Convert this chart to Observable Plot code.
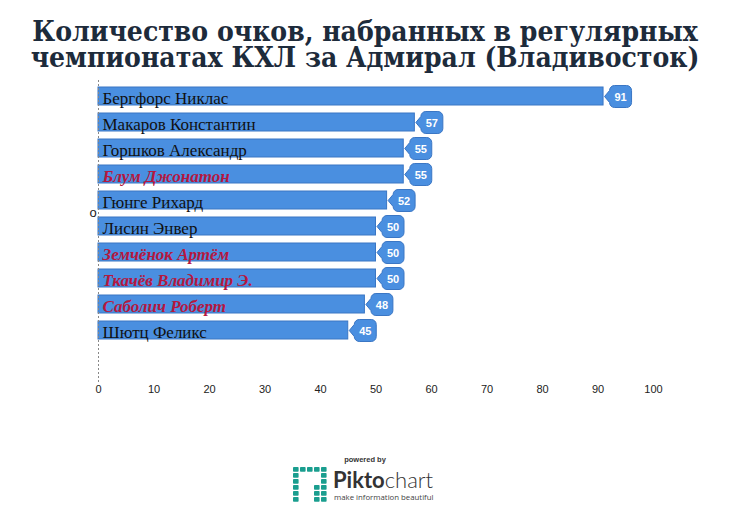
<!DOCTYPE html>
<html><head><meta charset="utf-8">
<script src="https://cdn.jsdelivr.net/npm/d3@7"></script>
<script src="https://cdn.jsdelivr.net/npm/@observablehq/plot@0.6"></script>
<style>
body{margin:0;background:#fff;width:730px;height:511px;position:relative;overflow:hidden}
#title{position:absolute;left:0;top:19px;width:730px;text-align:center;font-family:"DejaVu Serif Condensed","DejaVu Serif",serif;font-stretch:condensed;font-weight:bold;font-size:28px;line-height:26px;color:#1d2b3b;white-space:nowrap}
#title div{height:26px;overflow:visible}
#chart{position:absolute;left:0;top:70px}
#logo{position:absolute;left:0;top:440px;width:730px;height:71px}
</style></head>
<body>
<div id="title"><div>Количество очков, набранных в регулярных</div><div>чемпионатах КХЛ за Адмирал (Владивосток)</div></div>
<div id="chart"></div>
<svg id="logo" width="730" height="71"></svg>
<script>
const players = ["Бергфорс Никлас","Макаров Константин","Горшков Александр","Блум Джонатон","Гюнге Рихард","Лисин Энвер","Земчёнок Артём","Ткачёв Владимир Э.","Саболич Роберт","Шютц Феликс"];
const points = [91,57,55,55,52,50,50,50,48,45];
const highlighted = [false,false,false,true,false,false,true,true,true,false];
const xTicks = [0,10,20,30,40,50,60,70,80,90,100];
const yLabel = "о";

const data = players.map((p,i)=>({name:p, value:points[i], hl:highlighted[i]}));

const bubble = {
  draw(ctx){
    ctx.moveTo(1,0);
    ctx.lineTo(6,-6);
    ctx.arcTo(6,-11,11,-11,5);
    ctx.lineTo(23,-11);
    ctx.arcTo(28,-11,28,-6,5);
    ctx.lineTo(28,6);
    ctx.arcTo(28,11,23,11,5);
    ctx.lineTo(11,11);
    ctx.arcTo(6,11,6,6,5);
    ctx.closePath();
  }
};

const fill = "#4a8fe0", stroke = "#3a76c4";
const plot = Plot.plot({
  width:730, height:332,
  marginLeft:98, marginRight:77, marginTop:10, marginBottom:20,
  x:{domain:[0,100], ticks:xTicks},
  y:{domain:players, range:[13,273], paddingInner:0.3, paddingOuter:0.15},
  marks:[
    Plot.barX(data,{x:"value", y:"name", fill, stroke, strokeWidth:1}),
    Plot.ruleX([0],{stroke:"#888", strokeDasharray:"2,2", strokeWidth:1}),
    Plot.dot(data,{x:"value", y:"name", symbol:bubble, fill, stroke, strokeWidth:1, r:5}),
    Plot.text(data,{x:"value", y:"name", text:d=>String(d.value), dx:17, dy:1, fill:"white", fontWeight:"bold", fontSize:11, fontFamily:"Liberation Sans, Arial, sans-serif"}),
    Plot.text(data.filter(d=>!d.hl),{x:0, y:"name", text:"name", dx:4, dy:2, textAnchor:"start", fill:"#111", fontSize:17, fontFamily:"Liberation Serif, Times New Roman, serif"}),
    Plot.text(data.filter(d=>d.hl),{x:0, y:"name", text:"name", dx:4, dy:2, textAnchor:"start", fill:"#b5173f", fontSize:17, fontWeight:"bold", fontStyle:"italic", fontFamily:"Liberation Serif, Times New Roman, serif"}),
    Plot.text([yLabel],{frameAnchor:"left", dx:-9, dy:-19, text:d=>d, fontSize:13, fill:"#222", fontFamily:"Liberation Sans, sans-serif"}),
    Plot.axisX({anchor:"bottom", ticks:xTicks, tickSize:0, tickPadding:3, fontSize:11, fontFamily:"Liberation Sans, Arial, sans-serif", color:"#222", label:null}),
    Plot.axisY({ticks:[], label:null, tickSize:0})
  ]
});
document.getElementById("chart").appendChild(plot);

// Piktochart footer
const svg = d3.select("#logo");
svg.append("text").attr("x",365).attr("y",22).attr("text-anchor","middle").attr("font-family","Liberation Sans, sans-serif").attr("font-weight","bold").attr("font-size",7.5).attr("fill","#333").text("powered by");
const teal="#1a9e8f";
const g = svg.append("g").attr("transform","translate(293,27)");
const cells=[];
for(let r=0;r<6;r++)for(let c=0;c<5;c++){
  const hole = (r>=1&&r<=2&&c>=1&&c<=3) || (r===3&&c>=1&&c<=2) || (r>=4&&c>=1&&c<=2);
  if(!hole) cells.push([c,r]);
}
g.selectAll("rect").data(cells).join("rect").attr("x",d=>d[0]*7).attr("y",d=>d[1]*6).attr("width",5.6).attr("height",4.8).attr("rx",0.8).attr("fill",teal);
svg.append("text").attr("x",333).attr("y",48).attr("font-family","Lato, Open Sans, sans-serif").attr("font-size",22).attr("fill","#333").html('<tspan font-weight="bold">Pikto</tspan><tspan font-weight="300">chart</tspan>');
svg.append("text").attr("x",334).attr("y",60).attr("font-family","Open Sans, sans-serif").attr("font-size",7.8).attr("fill","#444").text("make information beautiful");
</script>
</body></html>
